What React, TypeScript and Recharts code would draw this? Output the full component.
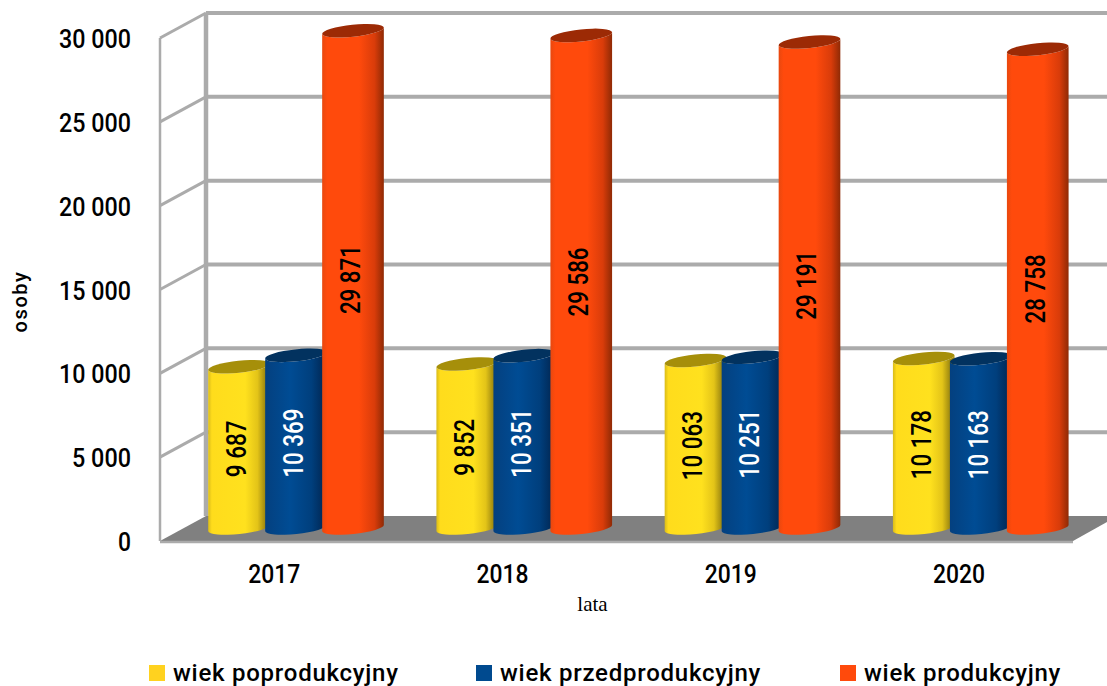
import { Bar, BarChart, CartesianGrid, LabelList, Legend, XAxis, YAxis } from "recharts"

const years = ["2017", "2018", "2019", "2020"]
const poprodukcyjny = [9687, 9852, 10063, 10178]
const przedprodukcyjny = [10369, 10351, 10251, 10163]
const produkcyjny = [29871, 29586, 29191, 28758]
const yTicks = [0, 5000, 10000, 15000, 20000, 25000, 30000]

const data = years.map((year, i) => ({
  year,
  poprodukcyjny: poprodukcyjny[i],
  przedprodukcyjny: przedprodukcyjny[i],
  produkcyjny: produkcyjny[i],
}))

const wallColor = "#ababab"
const tickFont = "Roboto, sans-serif"

// depth of the fake 3d box
const depthX = 46
const depthY = 25
const barShiftX = 22
const barShiftY = 13
const tilt = (6 * Math.PI) / 180

const fmt = (v: number) => String(v).replace(/\B(?=(\d{3})+$)/g, " ")

// the original font is a narrow din, so squeeze roboto to its width
const squeezed = (label: string, digit: number, gap: number) =>
  label.replace(/ /g, "").length * digit + (label.includes(" ") ? gap : 0)

const caps: Record<string, string> = {
  poprodukcyjny: "#a68f0a",
  przedprodukcyjny: "#02325f",
  produkcyjny: "#9c2a05",
}

function Cylinder(props: any) {
  const { x, y, width, height, dataKey } = props
  const rx = width / 2
  const ry = 6
  const cx = x + rx + barShiftX
  const base = y + height - barShiftY
  const top = base - height * 0.993
  const ox = rx * Math.cos(tilt)
  const oy = rx * Math.sin(tilt)
  const body = `M${cx - ox} ${top + oy} L${cx - ox} ${base + oy} A${rx} ${ry} -6 0 0 ${cx + ox} ${base - oy} L${cx + ox} ${top - oy} A${rx} ${ry} -6 0 1 ${cx - ox} ${top + oy} Z`
  return (
    <g>
      <path d={body} fill={`url(#grad-${dataKey})`} />
      <ellipse
        cx={cx}
        cy={top}
        rx={rx}
        ry={ry}
        fill={caps[dataKey]}
        transform={`rotate(-6 ${cx} ${top})`}
      />
    </g>
  )
}

function BarValue(props: any) {
  const { x, y, width, height, value, fill } = props
  const cx = x + width / 2 + barShiftX - 2
  const cy = y + height / 2 - barShiftY + 2
  const label = fmt(value)
  return (
    <text
      x={cx}
      y={cy}
      fill={fill}
      fontFamily={tickFont}
      fontSize={27}
      fontWeight={500}
      textAnchor="middle"
      dominantBaseline="central"
      textLength={squeezed(label, 12.2, 8)}
      lengthAdjust="spacingAndGlyphs"
      transform={`rotate(-90 ${cx} ${cy})`}
    >
      {label}
    </text>
  )
}

function AxisTick(props: any) {
  const { x, y, payload, textAnchor } = props
  const label = typeof payload.value === "number" ? fmt(payload.value) : payload.value
  return (
    <text
      x={x}
      y={y + 1}
      fill="#000"
      fontFamily={tickFont}
      fontSize={26}
      fontWeight={500}
      textAnchor={textAnchor}
      dominantBaseline="central"
      textLength={squeezed(label, 13, 7)}
      lengthAdjust="spacingAndGlyphs"
    >
      {label}
    </text>
  )
}

function WallLine(props: any) {
  const { x1, y1, x2, y, height } = props
  const isFloor = Math.abs(y1 - (y + height)) < 1
  const backY = y1 - depthY
  const backX = x1 + depthX
  const rightX = x2 + 34
  if (isFloor) {
    return (
      <g>
        <line x1={backX} y1={y - depthY} x2={backX} y2={backY} stroke={wallColor} strokeWidth={4.5} />
        <polygon
          points={`${x1},${y1} ${x2},${y1} ${rightX},${y1 - 19} ${rightX},${backY} ${backX},${backY}`}
          fill="#808080"
        />
        <line x1={x1} y1={y1 + 1} x2={x2} y2={y1 + 1} stroke={wallColor} strokeWidth={2.5} />
      </g>
    )
  }
  return (
    <g>
      <line x1={x1} y1={y1} x2={backX} y2={backY} stroke={wallColor} strokeWidth={3} />
      <line x1={backX} y1={backY} x2={rightX} y2={backY} stroke={wallColor} strokeWidth={4} />
    </g>
  )
}

function LegendRow(props: any) {
  const lefts = [149, 476, 840]
  return (
    <div style={{ position: "relative", height: 40, width: 1107 }}>
      {props.payload.map((item: any, i: number) => (
        <div
          key={item.value}
          style={{ position: "absolute", left: lefts[i], top: 15, display: "flex", alignItems: "center", whiteSpace: "nowrap" }}
        >
          <span style={{ width: 16, height: 16, background: item.color, marginRight: 8 }} />
          <span style={{ fontFamily: tickFont, fontSize: 24, fontWeight: 500, color: "#000", letterSpacing: 0.75, lineHeight: "24px" }}>
            {item.value}
          </span>
        </div>
      ))}
    </div>
  )
}

function Stops({ id, stops }: { id: string; stops: [number, string][] }) {
  return (
    <linearGradient id={id} x1="0" y1="0" x2="1" y2="0">
      {stops.map(([o, c]) => (
        <stop key={o} offset={o} stopColor={c} />
      ))}
    </linearGradient>
  )
}

export default function App() {
  return (
    <div style={{ position: "absolute", left: 0, top: 0, width: 1107, height: 686, background: "#fff" }}>
      <BarChart
        width={1107}
        height={686}
        data={data}
        barSize={62}
        barGap={-5}
        barCategoryGap={0}
        margin={{ top: 38, right: 34, bottom: 25, left: 0 }}
      >
        <defs>
          <Stops
            id="grad-poprodukcyjny"
            stops={[
              [0, "#d9bb1a"],
              [0.06, "#ffdc1c"],
              [0.6, "#ffe11e"],
              [0.8, "#e3c418"],
              [0.92, "#a08a10"],
            ]}
          />
          <Stops
            id="grad-przedprodukcyjny"
            stops={[
              [0, "#04407f"],
              [0.4, "#004c94"],
              [0.75, "#003f7d"],
              [0.92, "#012c5c"],
            ]}
          />
          <Stops
            id="grad-produkcyjny"
            stops={[
              [0, "#e8480f"],
              [0.08, "#ff4a0c"],
              [0.6, "#ff4a0c"],
              [0.85, "#d93c0a"],
              [1, "#8f2a05"],
            ]}
          />
        </defs>
        <CartesianGrid vertical={false} horizontal={(p: any) => <WallLine key={p.index} {...p} />} />
        <XAxis
          dataKey="year"
          height={80}
          tickLine={false}
          axisLine={false}
          tickMargin={26}
          tick={AxisTick}
          label={{
            value: "lata",
            position: "insideBottom",
            dx: -24,
            offset: 10,
            style: { fontFamily: "'Liberation Serif', serif", fontSize: 21, fill: "#000" },
          }}
        />
        <YAxis
          width={160}
          domain={[0, 30000]}
          ticks={yTicks}
          interval={0}
          tickLine={false}
          tickMargin={23}
          axisLine={{ stroke: wallColor, strokeWidth: 2.5 }}
          tick={AxisTick}
          label={{
            value: "osoby",
            angle: -90,
            position: "insideLeft",
            offset: 20,
            dy: 12,
            style: { fontFamily: tickFont, fontSize: 20, fontWeight: 500, fill: "#000", letterSpacing: 1.6, textAnchor: "middle" },
          }}
        />
        <Legend
          height={40}
          verticalAlign="bottom"
          itemSorter={null}
          wrapperStyle={{ left: 0, bottom: 0, width: 1107 }}
          content={LegendRow}
        />
        <Bar dataKey="poprodukcyjny" name="wiek poprodukcyjny" fill="#ffd21f" shape={Cylinder} isAnimationActive={false}>
          <LabelList dataKey="poprodukcyjny" fill="#000" content={BarValue} />
        </Bar>
        <Bar dataKey="przedprodukcyjny" name="wiek przedprodukcyjny" fill="#004a8f" shape={Cylinder} isAnimationActive={false}>
          <LabelList dataKey="przedprodukcyjny" fill="#fff" content={BarValue} />
        </Bar>
        <Bar dataKey="produkcyjny" name="wiek produkcyjny" fill="#ff4a0c" shape={Cylinder} isAnimationActive={false}>
          <LabelList dataKey="produkcyjny" fill="#000" content={BarValue} />
        </Bar>
      </BarChart>
    </div>
  )
}
